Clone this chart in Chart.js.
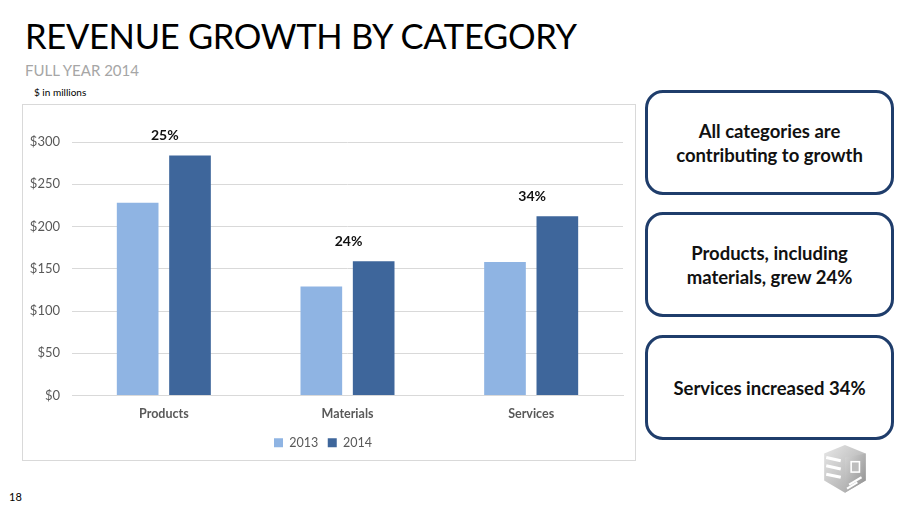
<!DOCTYPE html>
<html>
<head>
<meta charset="utf-8">
<script src="https://cdn.jsdelivr.net/npm/chart.js@4"></script>
<style>
  html, body { margin:0; padding:0; background:#fff; }
  body { width:911px; height:512px; position:relative; overflow:hidden; font-family: Lato, "Open Sans", sans-serif; }
  .title { position:absolute; left:25px; top:15px; font-size:34.5px; color:#000; white-space:nowrap; letter-spacing:-0.3px; }
  .sub { position:absolute; left:25px; top:61px; font-size:15px; color:#a6a6a6; white-space:nowrap; }
  .units { position:absolute; left:34px; top:86px; font-size:10px; color:#000; white-space:nowrap; }
  .page { position:absolute; left:9px; top:490px; font-size:11px; color:#000; }
  .chartbox { position:absolute; left:22px; top:104px; width:612px; height:355px; border:1px solid #d9d9d9; }
  .callout { position:absolute; left:645px; width:243px; height:99px; border:3px solid #1f3d6b; border-radius:18px; display:flex; align-items:center; justify-content:center; text-align:center; font-weight:bold; font-size:18.5px; line-height:24px; color:#111; }
  .logo { position:absolute; left:820px; top:443px; }
</style>
</head>
<body>
<div class="title">REVENUE GROWTH BY CATEGORY</div>
<div class="sub">FULL YEAR 2014</div>
<div class="units">$ in millions</div>
<div class="page">18</div>
<div class="chartbox"><canvas id="c"></canvas></div>
<div class="callout" style="top:90px;">All categories are<br>contributing to growth</div>
<div class="callout" style="top:212px;">Products, including<br>materials, grew 24%</div>
<div class="callout" style="top:335px;">Services increased 34%</div>
<svg class="logo" width="54" height="54" viewBox="0 0 52 52">
  <defs>
    <linearGradient id="g1" x1="0" y1="0" x2="1" y2="1"><stop offset="0" stop-color="#e8e8e8"/><stop offset="1" stop-color="#a0a0a0"/></linearGradient>
    <linearGradient id="g2" x1="0" y1="0" x2="1" y2="1"><stop offset="0" stop-color="#d6d6d6"/><stop offset="1" stop-color="#8c8c8c"/></linearGradient>
  </defs>
  <path d="M24 2 L44 10 L44 36 L24 48 L4 36 L4 10 Z" fill="url(#g1)"/>
  <path d="M24 14 L44 10 L44 36 L24 48 Z" fill="url(#g2)"/>
  <path d="M6 14 L20 17 M6 22 L20 25 M6 30 L20 33" stroke="#ffffff" stroke-width="3"/>
  <path d="M28 40 L40 33 M26 44 L36 38" stroke="#ffffff" stroke-width="2"/>
  <rect x="30" y="18" width="8" height="10" fill="#bdbdbd" stroke="#fff" stroke-width="1.5"/>
</svg>
<script>
const categories = ['Products', 'Materials', 'Services'];
const seriesNames = ['2013', '2014'];
const values2013 = [228, 129, 158];
const values2014 = [284, 159, 212];
const growthLabels = ['25%', '24%', '34%'];
const yTicks = [0, 50, 100, 150, 200, 250, 300];

const growthPlugin = {
  id: 'growth',
  afterDatasetsDraw(chart) {
    const ctx = chart.ctx;
    const xs = chart.scales.x, ys = chart.scales.y;
    ctx.save();
    ctx.font = 'bold 14px Lato, "Open Sans", sans-serif';
    ctx.fillStyle = '#111';
    ctx.textAlign = 'center';
    ctx.textBaseline = 'bottom';
    categories.forEach((c, i) => {
      const top = Math.max(values2013[i], values2014[i]);
      ctx.fillText(growthLabels[i], xs.getPixelForValue(i) + 1, ys.getPixelForValue(top) - 13);
    });
    ctx.restore();
  }
};

new Chart(document.getElementById('c'), {
  type: 'bar',
  data: {
    labels: categories,
    datasets: [
      { label: seriesNames[0], data: values2013, backgroundColor: '#8fb4e3' },
      { label: seriesNames[1], data: values2014, backgroundColor: '#3e669b' }
    ]
  },
  options: {
    responsive: true,
    maintainAspectRatio: false,
    animation: false,
    datasets: { bar: { categoryPercentage: 0.57, barPercentage: 0.796 } },
    layout: { padding: { left: 0, right: 12, top: 37, bottom: 1 } },
    plugins: {
      legend: {
        position: 'bottom',
        labels: { boxWidth: 9, boxHeight: 9, padding: 9.5, color: '#595959', font: { family: 'Lato, "Open Sans", sans-serif', size: 12.5 } }
      },
      tooltip: { enabled: false }
    },
    scales: {
      x: {
        grid: { display: false },
        border: { color: '#d9d9d9' },
        afterFit(axis) { axis.height = axis.height + 2.5; },
        ticks: { color: '#595959', font: { family: 'Lato, "Open Sans", sans-serif', size: 12.5, weight: 'bold' }, padding: 3 }
      },
      y: {
        min: 0, max: 300,
        afterBuildTicks(axis) { axis.ticks = yTicks.map(v => ({ value: v })); },
        afterFit(axis) { axis.width = 49; },
        grid: { color: '#d9d9d9', drawTicks: false },
        border: { display: false },
        ticks: { color: '#595959', padding: 12, font: { family: 'Lato, "Open Sans", sans-serif', size: 13 }, callback: v => '$' + v }
      }
    }
  },
  plugins: [growthPlugin]
});
</script>
</body>
</html>
